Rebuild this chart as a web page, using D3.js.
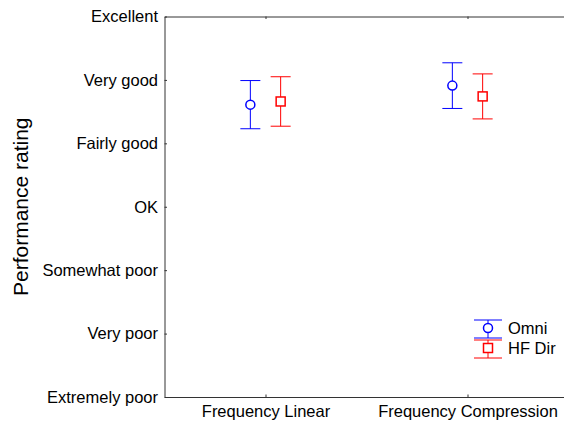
<!DOCTYPE html>
<html>
<head>
<meta charset="utf-8">
<script src="https://cdn.jsdelivr.net/npm/d3@7"></script>
<style>
  html, body { margin: 0; padding: 0; background: #fff; }
  svg { display: block; }
  text { font-family: "Liberation Sans", Arial, sans-serif; fill: #000; }
</style>
</head>
<body>
<svg id="chart" width="564" height="423"></svg>
<script>
// Rating scale labels, bottom (1) to top (7)
const ratingLabels = ["Extremely poor", "Very poor", "Somewhat poor", "OK", "Fairly good", "Very good", "Excellent"];
const conditions = ["Frequency Linear", "Frequency Compression"];
const seriesNames = ["Omni", "HF Dir"];
// Mean ratings and error half-widths per condition
const omniMean = [5.61, 5.91];
const omniErr = [0.38, 0.36];
const hfDirMean = [5.66, 5.74];
const hfDirErr = [0.39, 0.355];

const series = [
  { name: seriesNames[0], mean: omniMean, err: omniErr, color: "#0000ff", shape: "circle", offset: -0.075 },
  { name: seriesNames[1], mean: hfDirMean, err: hfDirErr, color: "#ff0000", shape: "square", offset: 0.075 }
];

const svg = d3.select("#chart");
const plotLeft = 164.5, plotTop = 16.5, plotBottom = 397;
const labelFont = "16.5px";

const x = d3.scaleLinear().domain([0.5, 2.5]).range([plotLeft, plotLeft + 404]);
const y = d3.scaleLinear().domain([1, 7]).range([plotBottom, plotTop]);

const axisColor = "#333";

function styleAxis(g) {
  g.select(".domain").attr("stroke", axisColor);
  g.selectAll(".tick line").attr("stroke", axisColor);
  g.selectAll("text").style("font-size", labelFont)
    .style("font-family", "Liberation Sans, Arial, sans-serif").attr("fill", "#000");
}

// Y axis with inward ticks
svg.append("g").attr("transform", `translate(${plotLeft},0)`)
  .call(d3.axisLeft(y).tickValues(d3.range(1, 8)).tickFormat(d => ratingLabels[d - 1])
    .tickSizeInner(-2.5).tickSizeOuter(0).tickPadding(6.5))
  .call(styleAxis);

// Bottom axis
svg.append("g").attr("transform", `translate(0,${plotBottom})`)
  .call(d3.axisBottom(x).tickValues([1, 2]).tickFormat(d => conditions[d - 1])
    .tickSizeInner(-2.5).tickSizeOuter(0).tickPadding(8))
  .call(styleAxis);

// Top border with inward ticks
svg.append("g").attr("transform", `translate(0,${plotTop})`)
  .call(d3.axisTop(x).tickValues([1, 2]).tickFormat("").tickSizeInner(-2.5).tickSizeOuter(0))
  .call(styleAxis);

// Y axis title
svg.append("text")
  .attr("transform", `translate(28,${(plotTop + plotBottom) / 2}) rotate(-90)`)
  .attr("text-anchor", "middle")
  .style("font-size", "21px")
  .text("Performance rating");

const capHalf = 10;

function drawMarker(g, shape, cx, cy, color) {
  if (shape === "circle") {
    g.append("circle").attr("cx", cx).attr("cy", cy).attr("r", 4.5)
      .attr("fill", "#fff").attr("stroke", color).attr("stroke-width", 1.5);
  } else {
    g.append("rect").attr("x", cx - 4.5).attr("y", cy - 4.5).attr("width", 9).attr("height", 9)
      .attr("fill", "#fff").attr("stroke", color).attr("stroke-width", 1.5);
  }
}

// Error bars with markers
series.forEach(s => {
  const g = svg.append("g");
  s.mean.forEach((m, i) => {
    const cx = x(i + 1 + s.offset);
    const y0 = y(m + s.err[i]), y1 = y(m - s.err[i]);
    g.append("line").attr("x1", cx).attr("x2", cx).attr("y1", y0).attr("y2", y1)
      .attr("stroke", s.color).attr("stroke-width", 1);
    [y0, y1].forEach(yy => g.append("line")
      .attr("x1", cx - capHalf).attr("x2", cx + capHalf).attr("y1", yy).attr("y2", yy)
      .attr("stroke", s.color).attr("stroke-width", 1));
    drawMarker(g, s.shape, cx, y(m), s.color);
  });
});

// Legend
const legend = svg.append("g").attr("transform", "translate(488,328)");
series.forEach((s, i) => {
  const g = legend.append("g").attr("transform", `translate(0,${i * 20})`);
  g.append("line").attr("x1", 0).attr("x2", 0).attr("y1", -8).attr("y2", 10)
    .attr("stroke", s.color).attr("stroke-width", 1);
  [-8, 10].forEach(yy => g.append("line").attr("x1", -14).attr("x2", 14).attr("y1", yy).attr("y2", yy)
    .attr("stroke", s.color).attr("stroke-width", 1));
  drawMarker(g, s.shape, 0, 0, s.color);
  g.append("text").attr("x", 20).attr("y", 6).style("font-size", labelFont).text(s.name);
});
</script>
</body>
</html>
